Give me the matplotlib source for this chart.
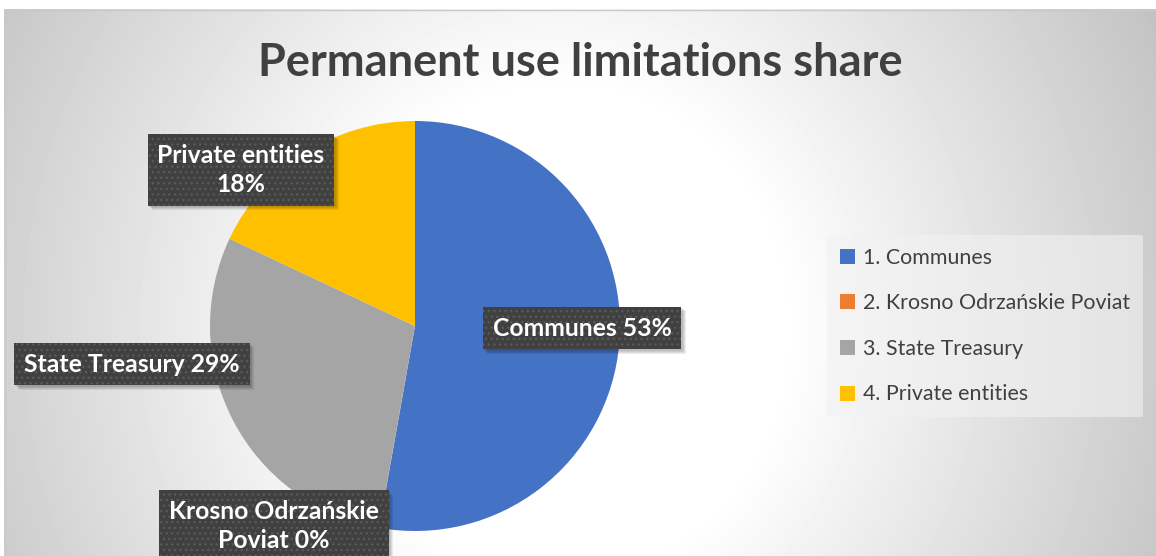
import numpy as np
import matplotlib
matplotlib.use("Agg")
import matplotlib.pyplot as plt
from matplotlib.patches import Rectangle

plt.rcParams['font.family'] = ['Lato', 'DejaVu Sans']

# data
categories = ['Communes', 'Krosno Odrzańskie Poviat', 'State Treasury', 'Private entities']
shares = [52.8, 0.02, 29.18, 18.0]
colors = ['#4472C4', '#ED7D31', '#A5A5A5', '#FFC000']

# how each data label is wrapped, and where its box sits (pixels from top-left)
label_names = ['Communes', 'Krosno Odrzańskie\nPoviat', 'State Treasury', 'Private entities']
label_seps = [' ', ' ', ' ', '\n']
label_pos = [(582, 328), (274, 526), (132, 364), (241, 170)]

W, H = 1156, 556
fig = plt.figure(figsize=(W / 100, H / 100), dpi=100)
fig.patch.set_facecolor('white')

# background layer in pixel coordinates
bg = fig.add_axes([0, 0, 1, 1])
bg.set_xlim(0, W)
bg.set_ylim(H, 0)
bg.axis('off')

yy, xx = np.mgrid[9:H, 4:W]
d = np.sqrt(((xx - 560) / 560.0) ** 2 + ((yy - 330) / 600.0) ** 2)
shade = 1 - 0.24 * np.clip((d - 0.4) / 0.8, 0, 1)
bg.imshow(shade, cmap='gray', vmin=0, vmax=1, extent=(4, W, H, 9),
          aspect='auto', interpolation='bilinear', zorder=0)
bg.plot([4.5, 4.5, W], [H, 9.5, 9.5], color='#c9c9c9', lw=1, zorder=1)

bg.text(580, 63, 'Permanent use limitations share', ha='center', va='center',
        fontsize=32.5, fontweight='bold', color='#404040', zorder=2)

# pie
ax = fig.add_axes([210 / W, (H - 531) / H, 410 / W, 410 / H])
ax.set_zorder(2)
wedges, _ = ax.pie(shares, colors=colors, startangle=90, counterclock=False,
                   radius=1, wedgeprops=dict(linewidth=0))
ax.set_xlim(-1, 1)
ax.set_ylim(-1, 1)

# data labels in dark dotted boxes
top = fig.add_axes([0, 0, 1, 1])
top.set_xlim(0, W)
top.set_ylim(H, 0)
top.axis('off')
top.set_zorder(3)
top.patch.set_alpha(0)

total = sum(shares)
labels = []
for name, sep, v, (x, y) in zip(label_names, label_seps, shares, label_pos):
    t = top.text(x, y, f'{name}{sep}{round(v / total * 100):.0f}%',
                 ha='center', va='center', multialignment='center',
                 fontsize=17.8, fontweight='bold', linespacing=1.3,
                 color='white', zorder=2,
                 bbox=dict(boxstyle='square,pad=0.4', facecolor='#404040',
                           edgecolor='#595959', linewidth=0, hatch='...'))
    labels.append(t)

# soft drop shadow behind each label box
fig.canvas.draw()
inv = top.transData.inverted()
for t in labels:
    ext = t.get_bbox_patch().get_window_extent()
    (x0, y1), (x1, y0) = inv.transform([[ext.x0, ext.y0], [ext.x1, ext.y1]])
    for o in (1.5, 2.5, 3.5, 4.5):
        top.add_patch(Rectangle((x0 + o, y0 + o), x1 - x0, y1 - y0,
                                facecolor='black', edgecolor='none',
                                alpha=0.07, zorder=1))

leg = ax.legend(wedges, [f'{i + 1}. {c}' for i, c in enumerate(categories)],
                loc='center left', bbox_to_anchor=(827 / W, (H - 326) / H),
                bbox_transform=fig.transFigure, borderaxespad=0,
                prop={'size': 15.4}, labelcolor='#404040',
                handlelength=0.7, handleheight=0.7, handletextpad=0.4,
                labelspacing=1.2, borderpad=0.6, fancybox=False)
leg.get_frame().set_facecolor('#f2f2f2')
leg.get_frame().set_alpha(0.6)
leg.get_frame().set_edgecolor('none')

fig.savefig('out.png', dpi=100)
